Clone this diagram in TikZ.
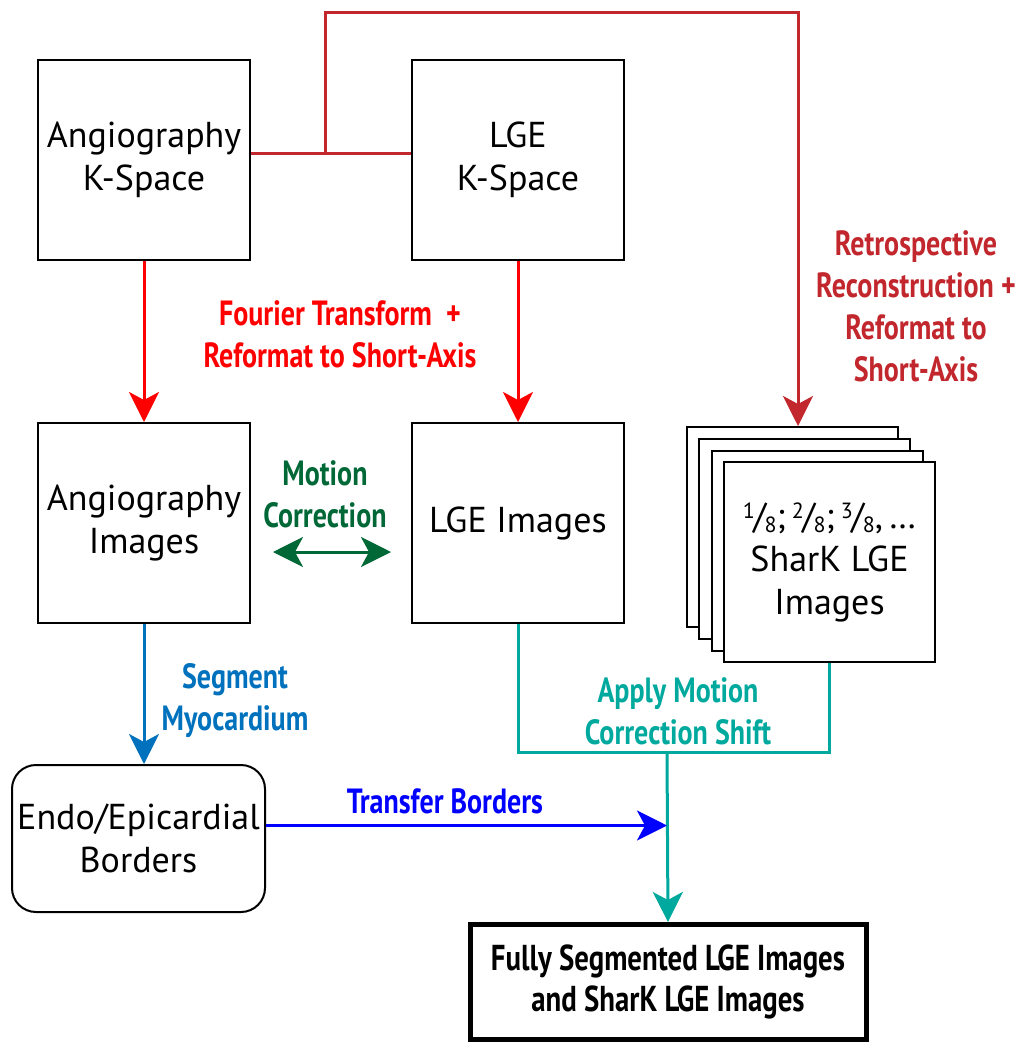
\documentclass[tikz,border=0pt]{standalone}
\usepackage{fontspec}
\setmainfont{PT Sans}
\newfontfamily\tagfont[FakeStretch=0.8]{PT Sans}
\usetikzlibrary{arrows.meta, positioning}

\definecolor{fourierred}{HTML}{FF0000}
\definecolor{retrored}{HTML}{C1272D}
\definecolor{motiongreen}{HTML}{006837}
\definecolor{segblue}{HTML}{0071BC}
\definecolor{transferblue}{HTML}{0000FF}
\definecolor{shiftteal}{HTML}{00A99D}

% fraction of the undersampled k-space
\newcommand\octo[1]{\raisebox{0.55ex}{\fontsize{11}{11}\selectfont #1}\kern-0.04em/\kern-0.04em\raisebox{-0.25ex}{\fontsize{11}{11}\selectfont 8}}

\tikzset{
  box/.style={draw, line width=1pt, minimum width=106pt, minimum height=100pt,
    inner sep=0pt, align=center, font=\fontsize{18}{21.5}\selectfont},
  sheet/.style={draw, line width=1pt, fill=white, minimum width=105.5pt,
    minimum height=100pt, inner sep=0pt},
  tag/.style={align=center, font=\tagfont\bfseries\fontsize{17.5}{21}\selectfont},
  conn/.style={line width=1.5pt, -{Stealth[length=15pt, width=15pt, inset=4pt]}},
}

\begin{document}
\begin{tikzpicture}[x=0.5pt, y=-0.5pt]
  \useasboundingbox (0,0) rectangle (1026,1044);

  \node[box] (angk) at (144,160) {Angiography\\K-Space};
  \node[box] (lgek) at (518,160) {LGE\\K-Space};
  \node[box] (angi) at (144,523) {Angiography\\Images};
  \node[box] (lgei) at (518,523) {LGE Images};

  % stack of undersampled reconstructions
  \foreach \i in {0,1,2}
    \node[sheet] (sheet\i) at (792.5+12.3*\i, 527+12*\i) {};
  \node[box, fill=white, minimum width=105.5pt] (shark) at (829.5,562)
    {\octo{1};\,\octo{2};\,\octo{3},\,\dots\\SharK LGE\\Images};

  \node[box, rounded corners=12pt, minimum width=126.5pt, minimum height=73.5pt]
    (endo) at (138.5,838.5) {Endo/Epicardial\\Borders};
  \node[box, line width=2.5pt, minimum width=198pt, minimum height=57.5pt,
    font=\tagfont\bfseries\fontsize{18}{20.5}\selectfont]
    (final) at (668,982) {Fully Segmented LGE Images\\and SharK LGE Images};

  \coordinate (fork) at (325,153);
  \coordinate (top) at (798,12);
  \coordinate (join) at (667,752);

  \draw[conn, fourierred] (angk) -- (angi);
  \draw[conn, fourierred] (lgek) -- (lgei);

  \draw[line width=1.5pt, retrored] ([yshift=3.5pt]angk.east) -- ([yshift=3.5pt]lgek.west);
  \draw[conn, retrored] (fork) |- (top) -- (top |- sheet0.north);

  \draw[line width=1.5pt, motiongreen, {Stealth[length=15pt, width=15pt, inset=4pt]}-{Stealth[length=15pt, width=15pt, inset=4pt]},
    shorten <=11pt, shorten >=10pt]
    ([yshift=-14.5pt]angi.east) -- ([yshift=-14.5pt]lgei.west);

  \draw[conn, segblue] (angi.south) -- (angi.south |- endo.north);

  \draw[line width=1.5pt, shiftteal] (lgei.south) |- (join) -| (shark.south);
  \draw[conn, shiftteal] (join) -- (final.north);

  \draw[conn, transferblue] ([yshift=6.5pt]endo.east) -- ([yshift=6.5pt]endo.east -| join);

  \node[tag, fourierred] (fourier) at (340,334) {Fourier Transform\ \ +\\Reformat to Short-Axis};
  \node[tag, retrored] (retro) at (916,306) {Retrospective\\Reconstruction +\\Reformat to\\Short-Axis};
  \node[tag, motiongreen] (motion) at (325,494) {Motion\\Correction};
  \node[tag, segblue] (segment) at (235,701) {Segment\\Myocardium};
  \node[tag, shiftteal] (apply) at (678,711) {Apply Motion\\Correction Shift};
  \node[tag, transferblue] (transfer) at (445,801) {Transfer Borders};
\end{tikzpicture}
\end{document}
